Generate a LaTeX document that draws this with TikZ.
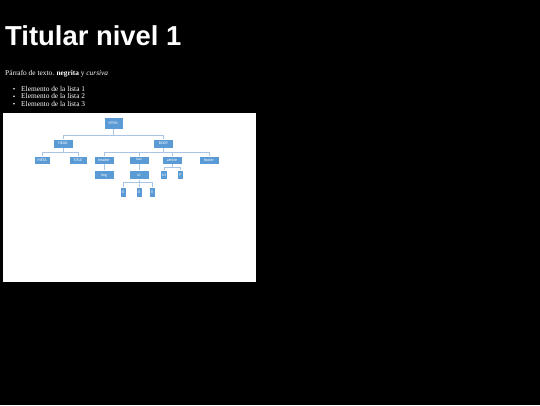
\documentclass[tikz,border=0pt]{standalone}
\usepackage{fontspec}
\setmainfont{Liberation Serif}
\newfontfamily\headfont{Liberation Sans}
\newfontfamily\boxfont{Carlito}
\usepackage{xcolor}
\definecolor{elemblue}{HTML}{5B9BD5}
\definecolor{linkblue}{HTML}{A9C4E4}

\tikzset{
  elem/.style={fill=elemblue, draw=white, line width=0.3bp, text=white,
    font=\boxfont\fontsize{4}{4.5}\selectfont, inner sep=0pt,
    minimum width=20bp, minimum height=9bp},
  small/.style={elem, minimum width=6bp, minimum height=10bp},
  link/.style={draw=linkblue, line width=0.5bp}
}

\begin{document}
\begin{tikzpicture}[x=1bp, y=-1bp]
    \useasboundingbox (0,0) rectangle (540,405);
    \fill [black] (0,0) rectangle (540,405);

    % text part
    \node [anchor=base west, inner sep=0pt, text=white, font=\headfont\bfseries\fontsize{27.5}{32}\selectfont] (titular) at (5,45) {Titular nivel 1};
    \node [anchor=base west, inner sep=0pt, text=white, font=\fontsize{7.4}{8}\selectfont] (parrafo) at (5,75) {Párrafo de texto. \textbf{negrita} y \textit{cursiva}};
    \foreach \i/\yy in {1/91, 2/98.5, 3/106} {
        \fill [white] (14,\yy-2.2) circle (0.9);
        \node [anchor=base west, inner sep=0pt, text=white, font=\fontsize{7.4}{8}\selectfont] (item\i) at (21,\yy) {Elemento de la lista \i};
    }

    % tree
    \fill [white] (3,113) rectangle (256,282);
    \node [elem, minimum width=19bp, minimum height=12bp] (html) at (113.5,123) {HTML};
    \node [elem] (head) at (63,143.5) {HEAD};
    \node [elem] (body) at (163.5,143.5) {BODY};
    \node [elem, minimum width=16bp, minimum height=8bp] (meta) at (42,160) {META};
    \node [elem, minimum width=18bp, minimum height=8bp] (title) at (78,160) {TITLE};
    \node [elem, minimum height=8bp] (header) at (104,160) {header};
    \node [elem, minimum height=8bp] (nav) at (139,160) {nav};
    \node [elem, minimum height=8bp] (article) at (172,160) {article};
    \node [elem, minimum height=8bp] (footer) at (209,160) {footer};
    \node [elem] (img) at (104,175) {img};
    \node [elem] (ul) at (139,175) {ul};
    \node [elem, minimum width=7bp] (hone) at (164,175) {h1};
    \node [elem, minimum width=6bp] (p) at (180.5,175) {p};
    \node [small] (lia) at (123,192) {li};
    \node [small] (lib) at (139,192) {li};
    \node [small] (lic) at (152,192) {li};

    \draw [link] (html.south) -- ++(0,6) -| (head.north);
    \draw [link] (html.south) -- ++(0,6) -| (body.north);
    \draw [link] (head.south) -- ++(0,4) -| (meta.north);
    \draw [link] (head.south) -- ++(0,4) -| (title.north);
    \foreach \c in {header,nav,article,footer}
        \draw [link] (body.south) -- ++(0,4) -| (\c.north);
    \draw [link] (header) -- (img);
    \draw [link] (nav) -- (ul);
    \draw [link] (article.south) -- ++(0,3) -| (hone.north);
    \draw [link] (article.south) -- ++(0,3) -| (p.north);
    \foreach \c in {lia,lib,lic}
        \draw [link] (ul.south) -- ++(0,3) -| (\c.north);
\end{tikzpicture}
\end{document}
